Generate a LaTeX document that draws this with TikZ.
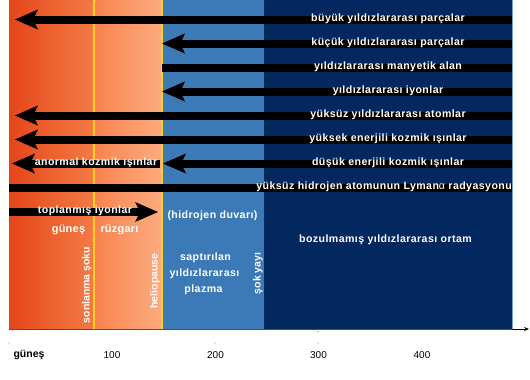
\documentclass[tikz,border=0pt]{standalone}
\usepackage{fontspec}
\setmainfont{Liberation Sans}
\newfontfamily\lblfont[LetterSpace=4]{Liberation Sans}
\newfontfamily\midfont[LetterSpace=2]{Liberation Sans}
\usetikzlibrary{arrows.meta}
\definecolor{orA}{HTML}{E5461B}
\definecolor{orB}{HTML}{F37A45}
\definecolor{orC}{HTML}{F7844F}
\definecolor{orD}{HTML}{FCAB7E}
\definecolor{ylw}{HTML}{FFD02A}
\definecolor{midblue}{HTML}{3B79B7}
\definecolor{navy}{HTML}{03275F}
\definecolor{axisgray}{HTML}{505050}
\tikzset{
  bigarrow/.style={line width=8pt, -{Stealth[length=23pt,width=20pt,inset=5pt,line width=0pt]}},
  flatbar/.style={line width=8pt},
  lbl/.style={text=white, font=\lblfont\bfseries\fontsize{10.6}{12}\selectfont, inner sep=0pt},
  rotlbl/.style={text=white, font=\bfseries\fontsize{10.5}{12}\selectfont, inner sep=0pt, rotate=90},
  biglbl/.style={text=white, font=\midfont\bfseries\fontsize{11}{13}\selectfont, inner sep=0pt},
  axlbl/.style={text=black, font=\fontsize{10}{12}\selectfont, inner sep=0pt},
  tickdot/.style={fill=axisgray, inner sep=0pt, minimum size=1pt, circle}
}
\begin{document}
\begin{tikzpicture}[x=1pt,y=-1pt]
\useasboundingbox (0,0) rectangle (530,380);
% regions
\shade[left color=orA,right color=orB] (9,0) rectangle (93,329);
\fill[ylw] (93,0) rectangle (95.5,329);
\shade[left color=orC,right color=orD] (95.5,0) rectangle (161,329);
\fill[ylw] (161,0) rectangle (163,329);
\fill[midblue] (163,0) rectangle (264,329);
\fill[navy] (264,0) rectangle (512,329);
\draw[midblue!70!white, line width=0.8pt] (512,0) -- (512,329);
% coordinates
\coordinate (r1) at (512,19.5);  \coordinate (l1) at (15,19.5);
\coordinate (r2) at (512,43.5);  \coordinate (l2) at (162,43.5);
\coordinate (r3) at (512,67.5);  \coordinate (l3) at (162,67.5);
\coordinate (r4) at (512,91.5);  \coordinate (l4) at (162,91.5);
\coordinate (r5) at (512,115.5); \coordinate (l5) at (15,115.5);
\coordinate (r6) at (512,139.5); \coordinate (l6) at (15,139.5);
\coordinate (r7) at (512,163.5); \coordinate (l7) at (163,163.5);
\coordinate (r8) at (160,163.5); \coordinate (l8) at (12,163.5);
\coordinate (r9) at (512,188);   \coordinate (l9) at (9,188);
\coordinate (l10) at (9,212);    \coordinate (r10) at (158,212);
% arrows
\draw[bigarrow] (r1) -- (l1);
\draw[bigarrow] (r2) -- (l2);
\draw[flatbar] (l3) -- (r3);
\draw[bigarrow] (r4) -- (l4);
\draw[bigarrow] (r5) -- (l5);
\draw[bigarrow] (r6) -- (l6);
\draw[bigarrow] (r7) -- (l7);
\draw[bigarrow] (r8) -- (l8);
\draw[flatbar] (l9) -- (r9);
\draw[bigarrow] (l10) -- (r10);
% arrow labels
\node[lbl] (t1) at (388,18.5) {büyük yıldızlararası parçalar};
\node[lbl] (t2) at (388,42.5) {küçük yıldızlararası parçalar};
\node[lbl] (t3) at (388,66.5) {yıldızlararası manyetik alan};
\node[lbl] (t4) at (388,90.5) {yıldızlararası iyonlar};
\node[lbl] (t5) at (388,115) {yüksüz yıldızlararası atomlar};
\node[lbl] (t6) at (388,139) {yüksek enerjili kozmik ışınlar};
\node[lbl] (t7) at (388,162.5) {düşük enerjili kozmik ışınlar};
\node[lbl] (t8) at (96,162.5) {anormal kozmik ışınlar};
\node[lbl, anchor=east] (t9) at (512,187) {yüksüz hidrojen atomunun Lyman{\mdseries α} radyasyonu};
\node[lbl] (t10) at (85,211) {toplanmış iyonlar};
% region labels
\node[biglbl] (gun) at (68.5,230) {güneş};
\node[biglbl] (ruz) at (119.5,230) {rüzgarı};
\node[lbl] (hd) at (212.5,216) {(hidrojen duvarı)};
\node[lbl] (boz) at (385.5,239.5) {bozulmamış yıldızlararası ortam};
\node[lbl] (sap1) at (205.5,258) {saptırılan};
\node[lbl] (sap2) at (204.5,274) {yıldızlararası};
\node[lbl] (sap3) at (203.5,290) {plazma};
\node[rotlbl] (son) at (87,285) {sonlanma şoku};
\node[rotlbl] (hel) at (155,281) {heliopause};
\node[rotlbl] (sok) at (258,273.5) {şok yayı};
% axis
\coordinate (a0) at (9,329);
\coordinate (a1) at (512,329);
\coordinate (a2) at (529,329);
\draw[axisgray, line width=0.8pt] (a0) -- (a1);
\draw[black, line width=0.8pt, -{Stealth[length=5pt,width=4pt]}] (a1) -- (a2);
\node[tickdot] (d0) at (9,343) {};
\node[tickdot] (d2) at (215,343) {};
\node[tickdot] (d3a) at (318,331.5) {};
\node[tickdot] (d3b) at (318,343) {};
\node[axlbl, font=\bfseries\fontsize{10.5}{12}\selectfont] (x0) at (29,355) {güneş};
\node[axlbl] (x1) at (112,355) {100};
\node[axlbl] (x2) at (215.5,355) {200};
\node[axlbl] (x3) at (318.5,355) {300};
\node[axlbl] (x4) at (422,355) {400};
\end{tikzpicture}
\end{document}
